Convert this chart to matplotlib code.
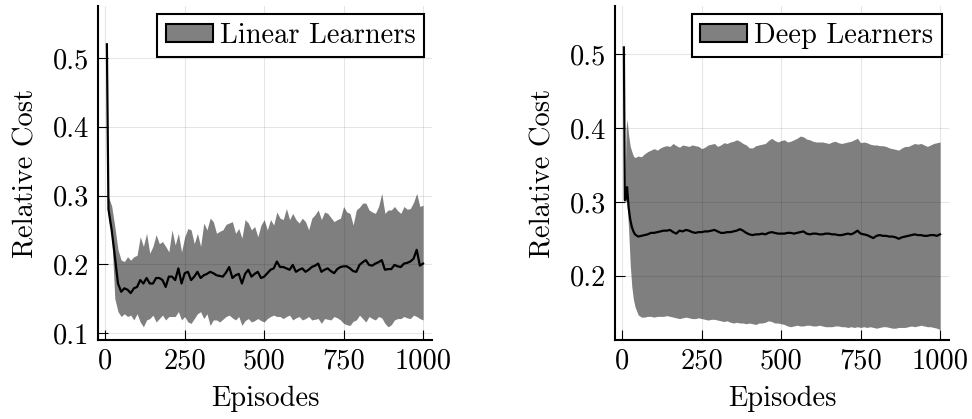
import matplotlib
matplotlib.use("Agg")
import matplotlib.pyplot as plt
from matplotlib.patches import Patch

plt.rcParams['font.family'] = 'cmr10'
plt.rcParams['axes.formatter.use_mathtext'] = True
plt.rcParams['mathtext.fontset'] = 'cm'

# ---- data: Linear Learners ----
lin_ep = [5, 10] + list(range(20, 1001, 10))
lin_mean = [0.520, 0.280,
            0.250, 0.212, 0.172, 0.160, 0.165, 0.163, 0.158, 0.165, 0.167,
            0.177, 0.172, 0.180, 0.172, 0.172, 0.180, 0.180, 0.177, 0.167, 0.182,
            0.182, 0.177, 0.194, 0.172, 0.187, 0.189, 0.177, 0.182, 0.189, 0.180,
            0.184, 0.186, 0.189, 0.187, 0.184, 0.183, 0.182, 0.188, 0.196, 0.180,
            0.184, 0.186, 0.172, 0.186, 0.192, 0.182, 0.186, 0.189, 0.180, 0.182,
            0.187, 0.192, 0.194, 0.204, 0.196, 0.196, 0.194, 0.192, 0.199, 0.189,
            0.192, 0.194, 0.189, 0.192, 0.196, 0.198, 0.201, 0.189, 0.192, 0.194,
            0.190, 0.187, 0.193, 0.196, 0.197, 0.197, 0.194, 0.190, 0.189, 0.199,
            0.203, 0.206, 0.199, 0.198, 0.201, 0.203, 0.206, 0.192, 0.193, 0.193,
            0.199, 0.197, 0.196, 0.201, 0.202, 0.204, 0.208, 0.221, 0.198, 0.201]
lin_upper = [0.520, 0.298,
             0.285, 0.255, 0.221, 0.206, 0.204, 0.211, 0.206, 0.211, 0.213,
             0.240, 0.226, 0.245, 0.216, 0.226, 0.243, 0.230, 0.233, 0.226, 0.218,
             0.250, 0.228, 0.245, 0.218, 0.240, 0.252, 0.250, 0.230, 0.245, 0.226,
             0.260, 0.250, 0.267, 0.262, 0.245, 0.248, 0.250, 0.258, 0.260, 0.262,
             0.245, 0.252, 0.238, 0.265, 0.260, 0.250, 0.255, 0.240, 0.257, 0.265,
             0.250, 0.265, 0.257, 0.276, 0.267, 0.265, 0.281, 0.265, 0.274, 0.265,
             0.260, 0.267, 0.262, 0.250, 0.267, 0.272, 0.279, 0.265, 0.276, 0.274,
             0.268, 0.262, 0.265, 0.267, 0.284, 0.276, 0.274, 0.257, 0.279, 0.283,
             0.289, 0.289, 0.279, 0.276, 0.274, 0.284, 0.303, 0.274, 0.279, 0.279,
             0.284, 0.278, 0.274, 0.284, 0.280, 0.281, 0.290, 0.303, 0.284, 0.286]
lin_lower = [0.520, 0.265,
             0.245, 0.150, 0.131, 0.124, 0.128, 0.124, 0.126, 0.119, 0.128,
             0.116, 0.109, 0.119, 0.121, 0.126, 0.116, 0.121, 0.126, 0.119, 0.124,
             0.124, 0.124, 0.131, 0.119, 0.124, 0.116, 0.114, 0.121, 0.128, 0.131,
             0.121, 0.128, 0.111, 0.119, 0.119, 0.116, 0.120, 0.124, 0.126, 0.122,
             0.119, 0.124, 0.111, 0.118, 0.121, 0.116, 0.118, 0.121, 0.118, 0.116,
             0.121, 0.124, 0.126, 0.124, 0.124, 0.121, 0.124, 0.126, 0.119, 0.122,
             0.124, 0.119, 0.121, 0.124, 0.119, 0.120, 0.121, 0.114, 0.121, 0.120,
             0.119, 0.124, 0.122, 0.119, 0.114, 0.112, 0.111, 0.117, 0.119, 0.126,
             0.121, 0.116, 0.124, 0.121, 0.119, 0.124, 0.122, 0.114, 0.109, 0.112,
             0.119, 0.121, 0.121, 0.124, 0.122, 0.121, 0.126, 0.124, 0.121, 0.119]

# ---- data: Deep Learners ----
deep_ep = [5, 8, 12, 15, 20, 25, 30, 35, 40, 50] + list(range(60, 1001, 10))
deep_mean = [0.509, 0.302, 0.305, 0.320, 0.292, 0.276, 0.266, 0.260, 0.256, 0.253,
             0.254, 0.255, 0.256, 0.258, 0.258,
             0.259, 0.260, 0.261, 0.261, 0.262, 0.259, 0.257, 0.261, 0.260, 0.262,
             0.261, 0.259, 0.258, 0.259, 0.259, 0.260, 0.260, 0.261, 0.262, 0.260,
             0.258, 0.258, 0.259, 0.259, 0.260, 0.261, 0.263, 0.261, 0.258, 0.256,
             0.255, 0.256, 0.256, 0.257, 0.256, 0.258, 0.259, 0.258, 0.257, 0.257,
             0.257, 0.258, 0.258, 0.257, 0.258, 0.259, 0.260, 0.257, 0.256, 0.257,
             0.257, 0.256, 0.256, 0.257, 0.257, 0.256, 0.256, 0.255, 0.255, 0.256,
             0.257, 0.256, 0.258, 0.261, 0.257, 0.256, 0.255, 0.253, 0.251, 0.254,
             0.255, 0.254, 0.254, 0.253, 0.253, 0.252, 0.250, 0.252, 0.253, 0.254,
             0.255, 0.256, 0.255, 0.255, 0.254, 0.254, 0.255, 0.255, 0.254, 0.256]
deep_upper = [0.509, 0.302, 0.400, 0.412, 0.390, 0.375, 0.368, 0.362, 0.360, 0.362,
              0.361, 0.365, 0.368, 0.370, 0.372,
              0.370, 0.373, 0.375, 0.376, 0.375, 0.379, 0.376, 0.374, 0.377, 0.376,
              0.375, 0.377, 0.376, 0.375, 0.372, 0.374, 0.377, 0.378, 0.379, 0.375,
              0.377, 0.380, 0.379, 0.381, 0.382, 0.384, 0.382, 0.379, 0.377, 0.373,
              0.373, 0.376, 0.377, 0.378, 0.379, 0.383, 0.386, 0.383, 0.381, 0.383,
              0.384, 0.381, 0.382, 0.384, 0.386, 0.389, 0.388, 0.385, 0.384, 0.382,
              0.381, 0.381, 0.381, 0.380, 0.379, 0.381, 0.382, 0.380, 0.379, 0.380,
              0.381, 0.382, 0.384, 0.386, 0.380, 0.381, 0.380, 0.378, 0.377, 0.377,
              0.376, 0.376, 0.375, 0.373, 0.372, 0.371, 0.370, 0.373, 0.375, 0.375,
              0.377, 0.379, 0.378, 0.379, 0.377, 0.375, 0.377, 0.379, 0.380, 0.381]
deep_lower = [0.509, 0.302, 0.300, 0.300, 0.262, 0.215, 0.185, 0.168, 0.158, 0.147,
              0.144, 0.144, 0.145, 0.145, 0.144,
              0.145, 0.145, 0.145, 0.146, 0.145, 0.144, 0.143, 0.142, 0.143, 0.144,
              0.143, 0.142, 0.142, 0.143, 0.142, 0.141, 0.140, 0.141, 0.141, 0.140,
              0.139, 0.138, 0.139, 0.137, 0.136, 0.137, 0.136, 0.136, 0.135, 0.136,
              0.135, 0.134, 0.136, 0.136, 0.137, 0.139, 0.138, 0.136, 0.136, 0.135,
              0.134, 0.132, 0.131, 0.132, 0.133, 0.132, 0.132, 0.133, 0.133, 0.132,
              0.132, 0.133, 0.132, 0.131, 0.131, 0.131, 0.132, 0.132, 0.131, 0.131,
              0.130, 0.131, 0.130, 0.131, 0.130, 0.131, 0.130, 0.131, 0.130, 0.129,
              0.130, 0.131, 0.131, 0.130, 0.129, 0.129, 0.130, 0.130, 0.130, 0.131,
              0.132, 0.131, 0.132, 0.133, 0.132, 0.131, 0.131, 0.130, 0.129, 0.127]

x_ticks = [0, 250, 500, 750, 1000]
x_ticklabels = ["0", "250", "500", "750", "1000"]
lin_yticks = [0.1, 0.2, 0.3, 0.4, 0.5]
deep_yticks = [0.2, 0.3, 0.4, 0.5]

FS = 20.5

fig = plt.figure(figsize=(9.72, 4.19), dpi=100)
ax1 = fig.add_axes([0.1008, 0.1885, 0.3436, 0.7971])
ax2 = fig.add_axes([0.6327, 0.1885, 0.3436, 0.7971])


def draw_panel(ax, ep, mean, lower, upper, label, yticks, ylim, legend_x):
    ax.set_axisbelow(True)
    ax.grid(True, color='black', alpha=0.1, linewidth=0.8)
    ax.fill_between(ep, lower, upper, color='black', alpha=0.5, linewidth=0)
    ax.plot(ep, mean, color='black', linewidth=1.6)

    ax.set_xlim(-23, 1028)
    ax.set_ylim(*ylim)
    ax.set_xticks(x_ticks)
    ax.set_xticklabels(x_ticklabels)
    ax.set_yticks(yticks)
    ax.set_yticklabels([f"{t:.1f}" for t in yticks])
    ax.tick_params(direction='in', length=7, width=0.8, labelsize=FS, pad=6)

    for side in ['top', 'right']:
        ax.spines[side].set_visible(False)
    for side in ['left', 'bottom']:
        ax.spines[side].set_linewidth(1.5)

    ax.set_xlabel("Episodes", fontsize=FS, labelpad=8)
    ax.set_ylabel("Relative Cost", fontsize=FS, labelpad=10)

    handle = Patch(facecolor='#808080', edgecolor='black', linewidth=1.5)
    leg = ax.legend([handle], [label], loc='upper right',
                    bbox_to_anchor=(legend_x, 0.976), borderaxespad=0,
                    fontsize=FS, fancybox=False, framealpha=1,
                    handlelength=1.65, handleheight=0.6, handletextpad=0.25,
                    borderpad=0.3)
    leg.get_frame().set_edgecolor('black')
    leg.get_frame().set_linewidth(1.5)


draw_panel(ax1, lin_ep, lin_mean, lin_lower, lin_upper, "Linear Learners",
           lin_yticks, (0.0898, 0.5756), 0.976)
draw_panel(ax2, deep_ep, deep_mean, deep_lower, deep_upper, "Deep Learners",
           deep_yticks, (0.113, 0.565), 0.979)

fig.savefig("out.png", dpi=100)
